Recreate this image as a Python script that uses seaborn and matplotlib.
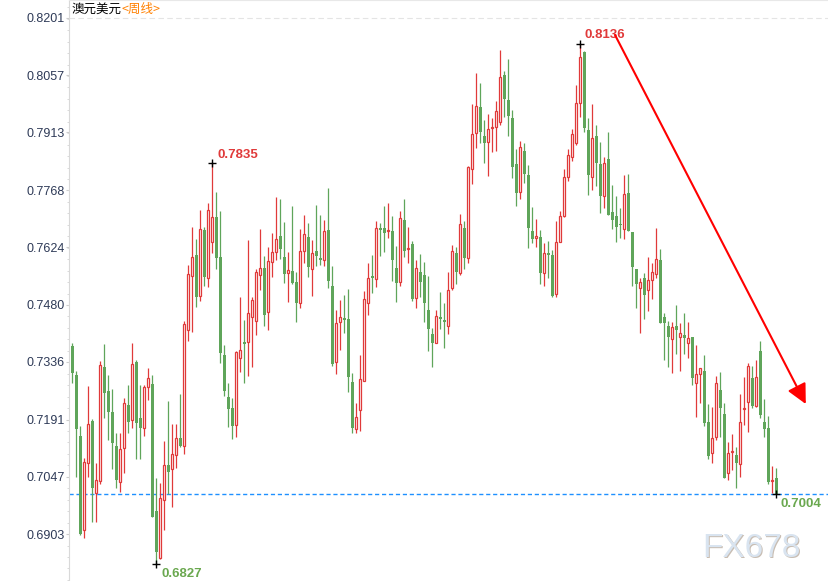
import numpy as np
import pandas as pd
import seaborn as sns
import matplotlib.pyplot as plt

# =========================
# 1. DATA (weekly AUD/USD candles)
# =========================
opens = [0.7376, 0.7303, 0.7150, 0.6913, 0.7081, 0.7187, 0.7007, 0.7036, 0.7322, 0.7263,
         0.7211, 0.7125, 0.7035, 0.7120, 0.7227, 0.7190, 0.7336, 0.7194, 0.7170, 0.7274,
         0.7280, 0.6961, 0.6844, 0.6989, 0.7077, 0.7066, 0.7103, 0.7145, 0.7125, 0.7416,
         0.7553, 0.7605, 0.7502, 0.7668, 0.7546, 0.7638, 0.7700, 0.7599, 0.7353, 0.7247,
         0.7221, 0.7177, 0.7347, 0.7387, 0.7387, 0.7450, 0.7440, 0.7555, 0.7571, 0.7462,
         0.7586, 0.7612, 0.7653, 0.7599, 0.7559, 0.7565, 0.7537, 0.7485, 0.7616, 0.7649,
         0.7569, 0.7615, 0.7596, 0.7591, 0.7668, 0.7527, 0.7336, 0.7437, 0.7446, 0.7443,
         0.7285, 0.7166, 0.7215, 0.7288, 0.7485, 0.7552, 0.7544, 0.7672, 0.7672, 0.7664,
         0.7665, 0.7573, 0.7536, 0.7694, 0.7620, 0.7632, 0.7496, 0.7561, 0.7554, 0.7466,
         0.7406, 0.7383, 0.7448, 0.7441, 0.7426, 0.7523, 0.7609, 0.7559, 0.7672, 0.7596,
         0.7820, 0.7911, 0.7976, 0.7904, 0.7890, 0.7923, 0.7926, 0.7940, 0.8058, 0.7995,
         0.7949, 0.7833, 0.7764, 0.7867, 0.7806, 0.7664, 0.7647, 0.7649, 0.7559, 0.7609,
         0.7605, 0.7506, 0.7638, 0.7703, 0.7802, 0.7852, 0.7886, 0.7988, 0.8114, 0.7919,
         0.7802, 0.7904, 0.7834, 0.7754, 0.7846, 0.7714, 0.7703, 0.7683, 0.7669, 0.7760,
         0.7662, 0.7569, 0.7523, 0.7546, 0.7518, 0.7542, 0.7557, 0.7591, 0.7450, 0.7425,
         0.7393, 0.7425, 0.7398, 0.7404, 0.7383, 0.7399, 0.7284, 0.7306, 0.7313, 0.7184,
         0.7106, 0.7146, 0.7265, 0.7206, 0.7056, 0.7109, 0.7102, 0.7078, 0.7217, 0.7236,
         0.7295, 0.7225, 0.7364, 0.7186, 0.7169, 0.7037, 0.7043]
highs = [0.7384, 0.7314, 0.7175, 0.7095, 0.7275, 0.7193, 0.7081, 0.7338, 0.7380, 0.7303,
         0.7267, 0.7158, 0.7156, 0.7244, 0.7278, 0.7383, 0.7341, 0.7278, 0.7278, 0.7321,
         0.7303, 0.7043, 0.7032, 0.7137, 0.7238, 0.7179, 0.7181, 0.7255, 0.7440, 0.7580,
         0.7674, 0.7644, 0.7718, 0.7674, 0.7735, 0.7835, 0.7762, 0.7715, 0.7378, 0.7282,
         0.7244, 0.7364, 0.7500, 0.7441, 0.7642, 0.7500, 0.7570, 0.7669, 0.7602, 0.7626,
         0.7659, 0.7750, 0.7745, 0.7689, 0.7612, 0.7728, 0.7563, 0.7669, 0.7705, 0.7686,
         0.7642, 0.7731, 0.7705, 0.7693, 0.7772, 0.7577, 0.7466, 0.7492, 0.7504, 0.7519,
         0.7307, 0.7232, 0.7353, 0.7514, 0.7584, 0.7605, 0.7690, 0.7686, 0.7728, 0.7735,
         0.7703, 0.7627, 0.7715, 0.7745, 0.7676, 0.7641, 0.7592, 0.7607, 0.7586, 0.7552,
         0.7422, 0.7466, 0.7511, 0.7485, 0.7561, 0.7630, 0.7624, 0.7708, 0.7690, 0.7829,
         0.7985, 0.8063, 0.8038, 0.7944, 0.7959, 0.7949, 0.7993, 0.8120, 0.8068, 0.8098,
         0.7970, 0.7871, 0.7892, 0.7887, 0.7831, 0.7726, 0.7695, 0.7668, 0.7634, 0.7640,
         0.7617, 0.7690, 0.7715, 0.7820, 0.7871, 0.7922, 0.8033, 0.8136, 0.8119, 0.7949,
         0.7985, 0.7932, 0.7890, 0.7852, 0.7913, 0.7781, 0.7754, 0.7722, 0.7806, 0.7808,
         0.7662, 0.7569, 0.7548, 0.7559, 0.7599, 0.7584, 0.7672, 0.7620, 0.7458, 0.7440,
         0.7437, 0.7479, 0.7435, 0.7458, 0.7437, 0.7399, 0.7378, 0.7320, 0.7353, 0.7229,
         0.7222, 0.7300, 0.7311, 0.7233, 0.7135, 0.7155, 0.7123, 0.7255, 0.7297, 0.7334,
         0.7326, 0.7341, 0.7389, 0.7242, 0.7200, 0.7074, 0.7068]
lows = [0.7282, 0.7047, 0.6900, 0.6892, 0.7047, 0.6934, 0.6934, 0.7030, 0.7196, 0.7139,
        0.7066, 0.7018, 0.7009, 0.7056, 0.7156, 0.7169, 0.7093, 0.7093, 0.7149, 0.7240,
        0.6947, 0.6827, 0.6840, 0.6913, 0.7005, 0.6970, 0.7068, 0.7123, 0.7104, 0.7389,
        0.7412, 0.7473, 0.7490, 0.7527, 0.7525, 0.7609, 0.7569, 0.7334, 0.7250, 0.7173,
        0.7141, 0.7146, 0.7311, 0.7282, 0.7300, 0.7322, 0.7403, 0.7517, 0.7425, 0.7416,
        0.7550, 0.7592, 0.7595, 0.7535, 0.7487, 0.7533, 0.7437, 0.7471, 0.7585, 0.7550,
        0.7502, 0.7577, 0.7580, 0.7577, 0.7521, 0.7326, 0.7305, 0.7366, 0.7408, 0.7261,
        0.7156, 0.7156, 0.7163, 0.7288, 0.7455, 0.7508, 0.7525, 0.7602, 0.7613, 0.7647,
        0.7540, 0.7487, 0.7528, 0.7599, 0.7585, 0.7490, 0.7471, 0.7500, 0.7437, 0.7364,
        0.7324, 0.7383, 0.7418, 0.7370, 0.7405, 0.7518, 0.7531, 0.7554, 0.7569, 0.7584,
        0.7783, 0.7873, 0.7887, 0.7835, 0.7804, 0.7863, 0.7867, 0.7932, 0.7953, 0.7903,
        0.7798, 0.7729, 0.7745, 0.7787, 0.7622, 0.7636, 0.7624, 0.7532, 0.7527, 0.7548,
        0.7498, 0.7500, 0.7638, 0.7700, 0.7791, 0.7842, 0.7881, 0.7951, 0.7915, 0.7756,
        0.7768, 0.7778, 0.7710, 0.7722, 0.7705, 0.7669, 0.7638, 0.7647, 0.7644, 0.7666,
        0.7527, 0.7471, 0.7409, 0.7443, 0.7465, 0.7493, 0.7548, 0.7435, 0.7341, 0.7324,
        0.7307, 0.7357, 0.7314, 0.7357, 0.7345, 0.7278, 0.7198, 0.7233, 0.7175, 0.7093,
        0.7081, 0.7139, 0.7148, 0.7043, 0.7039, 0.7064, 0.7018, 0.7047, 0.7177, 0.7160,
        0.7219, 0.7223, 0.7194, 0.7148, 0.7030, 0.7006, 0.7004]
closes = [0.7309, 0.7166, 0.6902, 0.7083, 0.7181, 0.7018, 0.7039, 0.7328, 0.7259, 0.7211,
          0.7133, 0.7039, 0.7118, 0.7232, 0.7186, 0.7331, 0.7183, 0.7170, 0.7274, 0.7295,
          0.6947, 0.6858, 0.6993, 0.7077, 0.7060, 0.7104, 0.7144, 0.7125, 0.7431, 0.7556,
          0.7599, 0.7500, 0.7669, 0.7550, 0.7718, 0.7700, 0.7596, 0.7359, 0.7263, 0.7217,
          0.7175, 0.7362, 0.7365, 0.7382, 0.7458, 0.7492, 0.7561, 0.7571, 0.7454, 0.7590,
          0.7612, 0.7644, 0.7620, 0.7557, 0.7567, 0.7535, 0.7485, 0.7615, 0.7657, 0.7575,
          0.7609, 0.7601, 0.7592, 0.7665, 0.7540, 0.7331, 0.7435, 0.7448, 0.7441, 0.7299,
          0.7170, 0.7198, 0.7292, 0.7493, 0.7548, 0.7546, 0.7672, 0.7668, 0.7659, 0.7668,
          0.7591, 0.7535, 0.7697, 0.7616, 0.7622, 0.7494, 0.7571, 0.7536, 0.7483, 0.7418,
          0.7383, 0.7451, 0.7443, 0.7437, 0.7518, 0.7615, 0.7563, 0.7682, 0.7596, 0.7827,
          0.7908, 0.7980, 0.7915, 0.7887, 0.7921, 0.7926, 0.7967, 0.8052, 0.7996, 0.7955,
          0.7827, 0.7760, 0.7877, 0.7808, 0.7672, 0.7644, 0.7653, 0.7559, 0.7609, 0.7605,
          0.7502, 0.7637, 0.7703, 0.7800, 0.7856, 0.7909, 0.7986, 0.8102, 0.7925, 0.7806,
          0.7898, 0.7837, 0.7754, 0.7835, 0.7705, 0.7694, 0.7675, 0.7680, 0.7758, 0.7666,
          0.7575, 0.7533, 0.7536, 0.7504, 0.7542, 0.7561, 0.7594, 0.7435, 0.7435, 0.7399,
          0.7423, 0.7416, 0.7408, 0.7395, 0.7395, 0.7296, 0.7306, 0.7320, 0.7183, 0.7099,
          0.7144, 0.7282, 0.7219, 0.7045, 0.7106, 0.7112, 0.7082, 0.7184, 0.7221, 0.7326,
          0.7225, 0.7297, 0.7202, 0.7166, 0.7035, 0.7039, 0.7005]

ytick_vals = [0.8201, 0.8057, 0.7913, 0.7768, 0.7624, 0.7480, 0.7336, 0.7191, 0.7047, 0.6903]
ytick_labels = ["0.8201", "0.8057", "0.7913", "0.7768", "0.7624",
                "0.7480", "0.7336", "0.7191", "0.7047", "0.6903"]

# marked extremes: (week index, price, label)
marks = [(35, 0.7835, "0.7835"), (127, 0.8136, "0.8136"),
         (21, 0.6827, "0.6827"), (176, 0.7004, "0.7004")]
last_price = 0.7004

df = pd.DataFrame({"open": opens, "high": highs, "low": lows, "close": closes})
df["week"] = np.arange(len(df))
df["up"] = df["close"] > df["open"]

# =========================
# 2. STYLE
# =========================
sns.set_theme(style="white")
plt.rcParams["font.family"] = ["Liberation Sans", "Noto Sans CJK SC", "DejaVu Sans"]

GREEN = "#5fa55a"
RED = "#e03a3a"

fig = plt.figure(figsize=(8.29, 5.81), dpi=100)
ax = fig.add_axes([69 / 829, 0, 760 / 829, 1])

# =========================
# 3. CANDLES
# =========================
up = df[df["up"]]
dn = df[~df["up"]]

ax.vlines(dn["week"], dn["low"], dn["high"], color=GREEN, lw=0.9, zorder=2)
ax.vlines(up["week"], up["low"], up["high"], color=RED, lw=0.9, zorder=2)

dn_h = np.maximum(dn["open"] - dn["close"], 0.0002)
ax.bar(dn["week"], dn_h, bottom=dn["close"], width=0.8, color=GREEN, lw=0, zorder=3)
up_h = np.maximum(up["close"] - up["open"], 0.0002)
ax.bar(up["week"], up_h, bottom=up["open"], width=0.6, facecolor="white",
       edgecolor=RED, lw=0.9, zorder=3)

# current price line + top grid line
ax.axhline(last_price, color="#1e90ff", lw=1, ls=(0, (3, 2)), zorder=1)
ax.axhline(ytick_vals[0], color="#e4e4e4", lw=0.8, ls=(0, (5, 3)), zorder=0)

# high / low markers
for wk, price, txt in marks:
    col = RED if price > 0.75 else "#6aa84f"
    dy = 6 if price > 0.75 else -7
    ax.plot(wk, price, marker="+", color="black", ms=6, mew=1, zorder=5)
    ax.annotate(txt, (wk, price), xytext=(3.4, dy), textcoords="offset points",
                ha="left", va="center", color=col, fontsize=9.5, fontweight="bold")

# trend arrow
ax.annotate("", xy=(183.4, 0.7230), xytext=(135.7, 0.8158),
            arrowprops=dict(arrowstyle="-|>,head_length=0.6,head_width=0.3",
                            color="#ff0000", lw=1.5, mutation_scale=20,
                            shrinkA=0, shrinkB=0), zorder=6)

# =========================
# 4. AXES
# =========================
ax.set_xticks([])
ax.set_yticks(ytick_vals, ytick_labels)
step = ytick_vals[0] - ytick_vals[1]
ax.set_yticks(np.arange(ytick_vals[-1] - step, ytick_vals[0] + step, step / 5), minor=True)
ax.set_xlim(-0.825, 189.2)
ax.set_ylim(0.6785, 0.8246)
ax.tick_params(axis="y", which="major", left=True, length=2.5, width=0.8,
               color="#cccccc", labelsize=9, labelcolor="#2e3a57", pad=0.5)
ax.tick_params(axis="y", which="minor", left=True, length=1.5, width=0.6, color="#d5d5d5")

for side in ["right", "bottom"]:
    ax.spines[side].set_visible(False)
ax.spines["left"].set_color("#d9d9d9")
ax.spines["left"].set_linewidth(0.8)
ax.spines["top"].set_color("#e8e8e8")
ax.spines["top"].set_linewidth(0.8)

# title
fig.text(72 / 829, 1 - 9.5 / 581, "澳元美元", fontsize=9, color="black", va="center",
         family=["Noto Sans CJK SC", "DejaVu Sans"])
fig.text(122 / 829, 1 - 9.5 / 581, "<周线>", fontsize=9, color="#ff8000", va="center",
         family=["Noto Sans CJK SC", "DejaVu Sans"])

# watermark
fig.text(703.5 / 829, 1 - 558.5 / 581, "FX678", fontsize=24, color="#c8bdb2", va="baseline")
fig.text(702 / 829, 1 - 557 / 581, "FX678", fontsize=24, color="#d9e4f0", va="baseline")

plt.savefig("out.png", dpi=100)
plt.close()
